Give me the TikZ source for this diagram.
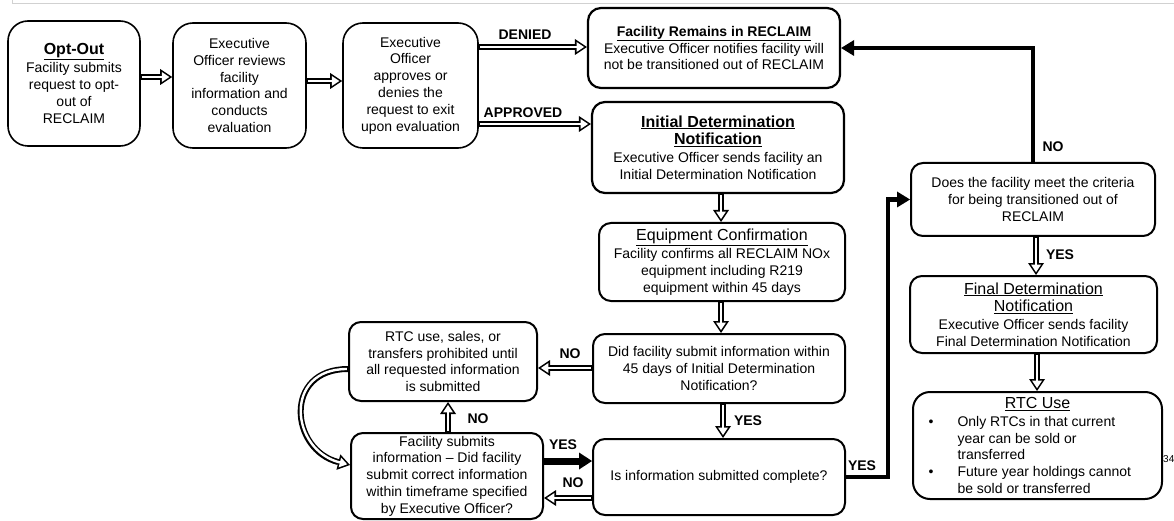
\documentclass[tikz,border=0pt]{standalone}
\usepackage{fontspec}
\setmainfont{Liberation Sans}
\usetikzlibrary{arrows.meta}
\newcommand\fsz[2]{\fontsize{#1}{#2}\selectfont}
\begin{document}
\begin{tikzpicture}[x=1pt,y=-1pt,
  box/.style={draw, line width=1.8pt, rounded corners=12pt, align=center, inner sep=0pt, font=\fsz{14}{16.8}},
  lbl/.style={font=\fsz{14}{16}\bfseries, inner sep=0pt},
  oarr/.style={draw=white, line width=2.4pt, shorten <=1.2pt, shorten >=2.9pt,
    -{Triangle[length=7.5pt,width=10pt,line width=0pt]},
    preaction={draw=black, line width=6pt, shorten <=0pt, shorten >=0pt,
      -{Triangle[length=12pt,width=16pt,line width=0pt]}}},
  barr/.style={draw=black, line width=4.6pt, line join=miter,
    -{Triangle[length=13pt,width=16pt,line width=0pt]}}]
\useasboundingbox (0,0) rectangle (1174,521);
\draw[black!18, line width=1pt] (12,0) -- (12,4) -- (1174,4);

% top row
\node[box, rounded corners=20pt, line width=1.6pt, minimum width=132pt, minimum height=125pt] (optout) at (74,83.5)
  {{\fsz{16}{19}\bfseries\underline{Opt-Out}}\\[1pt]Facility submits\\request to opt-\\out of\\RECLAIM};
\node[box, rounded corners=20pt, line width=1.6pt, minimum width=133pt, minimum height=125pt] (review) at (239.5,85.5)
  {Executive\\Officer reviews\\facility\\information and\\conducts\\evaluation};
\node[box, rounded corners=20pt, line width=1.6pt, minimum width=135pt, minimum height=125pt] (decide) at (410.5,85.5)
  {Executive\\Officer\\approves or\\denies the\\request to exit\\upon evaluation};
\node[box, rounded corners=13pt, line width=2.2pt, minimum width=252pt, minimum height=80pt] (remain) at (714,48)
  {{\bfseries\underline{Facility Remains in RECLAIM}}\\Executive Officer notifies facility will\\not be transitioned out of RECLAIM};
\node[box, rounded corners=13pt, line width=2.2pt, minimum width=252pt, minimum height=91pt] (initial) at (718,147.5)
  {{\fsz{16}{19}\bfseries\underline{Initial Determination}}\\[1pt]{\fsz{16}{19}\bfseries\underline{Notification}}\\[1pt]Executive Officer sends facility an\\Initial Determination Notification};

% middle column
\node[box, line width=2pt, minimum width=246pt, minimum height=78pt] (equip) at (722,262)
  {{\fsz{16}{19}\underline{Equipment Confirmation}}\\[2pt]Facility confirms all RECLAIM NOx\\equipment including R219\\equipment within 45 days};
\node[box, line width=2pt, minimum width=252pt, minimum height=69pt] (did) at (719,368.5)
  {Did facility submit information within\\45 days of Initial Determination\\Notification?};
\node[box, line width=2pt, minimum width=252pt, minimum height=76pt] (complete) at (719,477)
  {Is information submitted complete?};

% right column
\node[box, line width=2pt, minimum width=244pt, minimum height=73pt] (crit) at (1033,199.5)
  {Does the facility meet the criteria\\for being transitioned out of\\RECLAIM};
\node[box, line width=2pt, minimum width=247pt, minimum height=77pt] (final) at (1033.5,314.5)
  {{\fsz{16}{19}\underline{Final Determination}}\\[1pt]{\fsz{16}{19}\underline{Notification}}\\[1pt]Executive Officer sends facility\\Final Determination Notification};
\node[box, rounded corners=17pt, line width=2pt, minimum width=249pt, minimum height=107pt] (rtcuse) at (1037.5,445.5)
  {{\fsz{16}{18}\underline{RTC Use}}\\[1pt]
   \makebox[220pt][l]{\makebox[30pt][l]{\hspace{1pt}\textbullet}Only RTCs in that current}\\
   \makebox[220pt][l]{\hspace{30pt}year can be sold or}\\
   \makebox[220pt][l]{\hspace{30pt}transferred}\\
   \makebox[220pt][l]{\makebox[30pt][l]{\hspace{1pt}\textbullet}Future year holdings cannot}\\
   \makebox[220pt][l]{\hspace{30pt}be sold or transferred}};
\node[anchor=west, inner sep=0pt, font=\fsz{10}{12}] (pagenum) at (1163,459) {34};

% left lower
\node[box, line width=2pt, minimum width=188pt, minimum height=79pt] (rtcp) at (443,361.5)
  {RTC use, sales, or\\transfers prohibited until\\all requested information\\is submitted};
\node[box, line width=2pt, minimum width=192pt, minimum height=86pt] (fs) at (447,476)
  {Facility submits\\information -- Did facility\\submit correct information\\within timeframe specified\\by Executive Officer?};

% open arrows
\draw[oarr] (optout.east |- 0,77) -- (review.west |- 0,77);
\draw[oarr] (review.east |- 0,81) -- (decide.west |- 0,81);
\draw[oarr] (decide.east |- 0,47) -- (remain.west |- 0,47);
\draw[oarr] (decide.east |- 0,124) -- (initial.west |- 0,124);
\draw[oarr] (initial.south -| 721,0) -- (equip.north -| 721,0);
\draw[oarr] (equip.south -| 721,0) -- (did.north -| 721,0);
\draw[oarr] (did.south -| 723,0) -- (complete.north -| 723,0);
\draw[oarr] (crit.south -| 1036,0) -- (final.north -| 1036,0);
\draw[oarr] (final.south -| 1037,0) -- (rtcuse.north -| 1037,0);
\draw[oarr] (did.west |- 0,368) -- (rtcp.east |- 0,368);
\draw[oarr] (fs.north -| 448,0) -- (rtcp.south -| 448,0);
\draw[oarr] (complete.west |- 0,498) -- (fs.east |- 0,498);
\draw[oarr] (rtcp.west |- 0,369) .. controls +(-65,0) and +(-60,-15) .. (fs.west |- 0,465);

% thick arrows
\draw[barr] (crit.north) |- (remain.east);
\draw[barr] (complete.east) -- (complete.east -| 888,0) |- (crit.west);
\draw[barr, line width=7pt, -{Triangle[length=13pt,width=17pt,line width=0pt]}] (fs.east |- 0,461) -- (complete.west |- 0,461);

% labels
\node[lbl] (lDenied) at (525,35) {DENIED};
\node[lbl] (lApproved) at (523,113) {APPROVED};
\node[lbl] (lNo1) at (1053,147) {NO};
\node[lbl] (lYes1) at (1060,255) {YES};
\node[lbl] (lYes2) at (748,421) {YES};
\node[lbl] (lYes3) at (862,466) {YES};
\node[lbl] (lNo2) at (570,354) {NO};
\node[lbl] (lNo3) at (478,419) {NO};
\node[lbl] (lYes4) at (563,445) {YES};
\node[lbl] (lNo4) at (573,483) {NO};
\end{tikzpicture}
\end{document}
